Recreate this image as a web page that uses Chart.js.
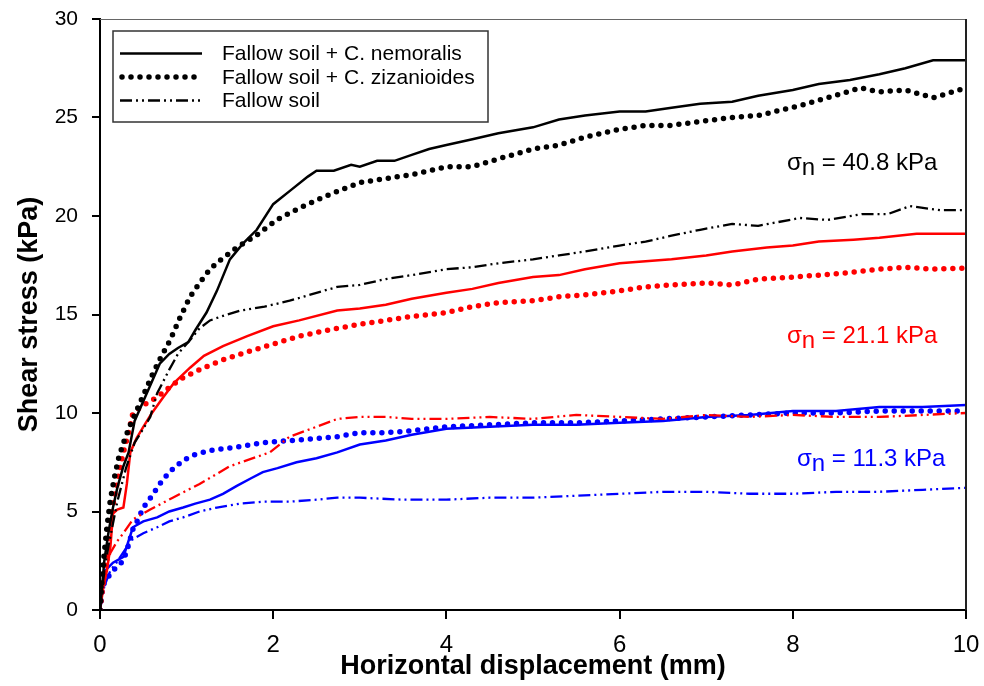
<!DOCTYPE html>
<html>
<head>
<meta charset="utf-8">
<script src="https://cdn.jsdelivr.net/npm/chart.js@4.4.1/dist/chart.umd.min.js"></script>
<style>
  html, body { margin: 0; padding: 0; background: #fff; }
  #wrap { width: 984px; height: 686px; }
</style>
</head>
<body>
<div id="wrap"><canvas id="chart"></canvas></div>
<script>
// series labels
const seriesNames = ['Fallow soil + C. nemoralis', 'Fallow soil + C. zizanioides', 'Fallow soil'];
const xTicks = [0, 2, 4, 6, 8, 10];
const yTicks = [0, 5, 10, 15, 20, 25, 30];

// sigma_n = 40.8 kPa (black)
const blackNemX = [0, 0.05, 0.1, 0.15, 0.2, 0.27, 0.33, 0.4, 0.5, 0.6, 0.69, 0.8, 0.9, 1.02, 1.1, 1.23, 1.35, 1.5, 1.65, 1.81, 2.0, 2.2, 2.4, 2.5, 2.7, 2.9, 3.0, 3.2, 3.4, 3.6, 3.8, 4.0, 4.3, 4.6, 5.0, 5.3, 5.6, 6.0, 6.3, 6.6, 6.93, 7.3, 7.6, 8.0, 8.3, 8.66, 9.0, 9.3, 9.62, 10];
const blackNemY = [0, 2.5, 4.0, 5.2, 6.2, 7.3, 8.0, 9.6, 10.6, 11.6, 12.5, 13.0, 13.3, 13.6, 14.2, 15.1, 16.2, 17.8, 18.6, 19.3, 20.6, 21.3, 22.0, 22.3, 22.3, 22.6, 22.5, 22.8, 22.8, 23.1, 23.4, 23.6, 23.9, 24.2, 24.5, 24.9, 25.1, 25.3, 25.3, 25.5, 25.7, 25.8, 26.1, 26.4, 26.7, 26.9, 27.2, 27.5, 27.9, 27.9];
const blackZizX = [0, 0.04, 0.08, 0.12, 0.17, 0.22, 0.28, 0.34, 0.4, 0.5, 0.6, 0.7, 0.81, 0.92, 1.04, 1.15, 1.27, 1.4, 1.58, 1.8, 2.04, 2.3, 2.6, 3.0, 3.3, 3.6, 4.0, 4.3, 4.6, 5.0, 5.3, 5.6, 6.0, 6.3, 6.6, 6.93, 7.3, 7.6, 8.08, 8.4, 8.78, 9.0, 9.3, 9.62, 10];
const blackZizY = [0, 2.5, 4.2, 5.6, 6.8, 7.8, 8.6, 9.3, 9.9, 10.9, 11.9, 12.8, 13.7, 14.8, 15.9, 16.6, 17.3, 17.8, 18.4, 19.0, 19.8, 20.4, 21.0, 21.7, 21.9, 22.1, 22.5, 22.5, 22.9, 23.4, 23.6, 24.0, 24.4, 24.6, 24.6, 24.8, 25.0, 25.1, 25.6, 26.0, 26.5, 26.3, 26.4, 26.0, 26.5];
const blackFalX = [0, 0.05, 0.1, 0.2, 0.3, 0.4, 0.5, 0.58, 0.66, 0.8, 0.9, 1.04, 1.15, 1.27, 1.4, 1.62, 1.9, 2.19, 2.5, 2.74, 3.0, 3.3, 3.6, 4.0, 4.3, 4.6, 5.0, 5.3, 5.6, 6.0, 6.3, 6.6, 6.93, 7.3, 7.6, 8.08, 8.4, 8.8, 9.1, 9.35, 9.7, 10];
const blackFalY = [0, 2.0, 3.3, 5.5, 7.2, 8.5, 9.2, 9.8, 11.0, 12.2, 13.0, 13.7, 14.3, 14.7, 14.9, 15.2, 15.4, 15.7, 16.1, 16.4, 16.5, 16.8, 17.0, 17.3, 17.4, 17.6, 17.8, 18.0, 18.2, 18.5, 18.7, 19.0, 19.3, 19.6, 19.5, 19.9, 19.8, 20.1, 20.1, 20.5, 20.3, 20.3];

// sigma_n = 21.1 kPa (red)
const redNemX = [0, 0.04, 0.08, 0.12, 0.15, 0.2, 0.27, 0.31, 0.35, 0.42, 0.5, 0.6, 0.73, 0.85, 1.04, 1.2, 1.42, 1.7, 2.0, 2.3, 2.74, 3.0, 3.3, 3.6, 4.0, 4.3, 4.6, 5.0, 5.3, 5.6, 6.0, 6.3, 6.6, 7.0, 7.3, 7.7, 8.0, 8.3, 8.7, 9.0, 9.43, 9.7, 10];
const redNemY = [0, 1.2, 2.0, 3.2, 4.9, 5.1, 5.2, 6.4, 8.0, 8.7, 9.3, 10.0, 10.8, 11.5, 12.3, 12.9, 13.4, 13.9, 14.4, 14.7, 15.2, 15.3, 15.5, 15.8, 16.1, 16.3, 16.6, 16.9, 17.0, 17.3, 17.6, 17.7, 17.8, 18.0, 18.2, 18.4, 18.5, 18.7, 18.8, 18.9, 19.1, 19.1, 19.1];
const redZizX = [0, 0.04, 0.08, 0.12, 0.17, 0.22, 0.27, 0.33, 0.38, 0.5, 0.66, 0.8, 0.96, 1.2, 1.42, 1.7, 2.0, 2.3, 2.74, 3.0, 3.3, 3.6, 4.0, 4.3, 4.6, 5.0, 5.3, 5.6, 6.0, 6.3, 6.6, 7.0, 7.3, 7.6, 8.0, 8.3, 8.6, 9.0, 9.3, 9.6, 10];
const redZizY = [0, 1.5, 3.0, 4.6, 5.8, 7.0, 8.0, 9.0, 10.0, 10.4, 10.8, 11.3, 11.8, 12.3, 12.7, 13.1, 13.5, 13.9, 14.3, 14.5, 14.7, 14.9, 15.1, 15.4, 15.6, 15.7, 15.9, 16.0, 16.2, 16.4, 16.5, 16.6, 16.5, 16.8, 16.9, 17.0, 17.1, 17.3, 17.4, 17.3, 17.35];
const redFalX = [0, 0.05, 0.12, 0.2, 0.27, 0.38, 0.58, 0.84, 1.15, 1.5, 1.96, 2.19, 2.5, 2.74, 3.0, 3.3, 3.6, 4.0, 4.5, 5.0, 5.5, 6.0, 6.5, 7.0, 7.5, 8.0, 8.5, 9.0, 9.5, 10];
const redFalY = [0, 1.8, 2.9, 3.5, 3.9, 4.6, 5.1, 5.7, 6.4, 7.3, 8.0, 8.8, 9.3, 9.7, 9.8, 9.8, 9.7, 9.7, 9.8, 9.7, 9.9, 9.8, 9.7, 9.9, 9.8, 9.9, 9.8, 9.8, 9.9, 10.0];

// sigma_n = 11.3 kPa (blue)
const blueNemX = [0, 0.03, 0.06, 0.15, 0.27, 0.38, 0.5, 0.66, 0.8, 0.96, 1.1, 1.27, 1.42, 1.58, 1.75, 1.88, 2.05, 2.27, 2.5, 2.74, 3.0, 3.3, 3.6, 4.0, 4.5, 5.0, 5.5, 6.0, 6.5, 7.0, 7.5, 8.0, 8.5, 9.0, 9.5, 10];
const blueNemY = [0, 1.2, 2.0, 2.4, 2.7, 4.2, 4.5, 4.7, 5.0, 5.2, 5.4, 5.6, 5.9, 6.3, 6.7, 7.0, 7.2, 7.5, 7.7, 8.0, 8.4, 8.6, 8.9, 9.2, 9.3, 9.4, 9.4, 9.5, 9.6, 9.8, 9.9, 10.1, 10.1, 10.3, 10.3, 10.4];
const blueZizX = [0, 0.03, 0.08, 0.15, 0.2, 0.27, 0.33, 0.38, 0.44, 0.5, 0.6, 0.69, 0.8, 0.96, 1.1, 1.27, 1.45, 1.62, 1.9, 2.19, 2.5, 2.74, 3.0, 3.3, 3.6, 4.0, 4.5, 5.0, 5.5, 6.0, 6.5, 7.0, 7.5, 8.0, 8.5, 9.0, 9.5, 10];
const blueZizY = [0, 1.2, 1.6, 2.0, 2.2, 2.5, 3.3, 4.1, 4.6, 5.2, 5.8, 6.4, 7.0, 7.6, 7.9, 8.1, 8.2, 8.3, 8.5, 8.6, 8.7, 8.8, 9.0, 9.0, 9.1, 9.3, 9.4, 9.5, 9.5, 9.6, 9.7, 9.8, 9.9, 10.0, 10.0, 10.1, 10.1, 10.1];
const blueFalX = [0, 0.05, 0.12, 0.19, 0.28, 0.38, 0.5, 0.66, 0.8, 0.96, 1.15, 1.35, 1.62, 1.9, 2.19, 2.5, 2.74, 3.0, 3.5, 4.0, 4.5, 5.0, 5.5, 6.0, 6.5, 7.0, 7.5, 8.0, 8.5, 9.0, 9.5, 10];
const blueFalY = [0, 1.2, 2.0, 2.4, 3.0, 3.6, 3.9, 4.2, 4.5, 4.7, 5.0, 5.2, 5.4, 5.5, 5.5, 5.6, 5.7, 5.7, 5.6, 5.6, 5.7, 5.7, 5.8, 5.9, 6.0, 6.0, 5.9, 5.9, 6.0, 6.0, 6.1, 6.2];

const notes = [
  { text: '40.8', color: '#000000', x: 787, y: 170 },
  { text: '21.1', color: '#ff0000', x: 787, y: 343 },
  { text: '11.3', color: '#0000ff', x: 797, y: 466 }
];

const pts = (xs, ys) => xs.map((x, i) => ({ x: x, y: ys[i] }));

const styles = [
  { borderWidth: 2.5, borderDash: [], borderCapStyle: 'butt' },
  { borderWidth: 5.5, borderDash: [0, 9], borderCapStyle: 'round' },
  { borderWidth: 2.3, borderDash: [12, 4, 2, 4, 2, 4], borderCapStyle: 'butt' }
];

function ds(name, kind, color, xs, ys) {
  return Object.assign({
    label: name,
    data: pts(xs, ys),
    borderColor: color,
    backgroundColor: color,
    pointRadius: 0,
    tension: 0,
    fill: false
  }, styles[kind]);
}

const datasets = [
  ds(seriesNames[0], 0, '#000000', blackNemX, blackNemY),
  ds(seriesNames[1], 1, '#000000', blackZizX, blackZizY),
  ds(seriesNames[2], 2, '#000000', blackFalX, blackFalY),
  ds(seriesNames[0], 0, '#ff0000', redNemX, redNemY),
  ds(seriesNames[1], 1, '#ff0000', redZizX, redZizY),
  ds(seriesNames[2], 2, '#ff0000', redFalX, redFalY),
  ds(seriesNames[0], 0, '#0000ff', blueNemX, blueNemY),
  ds(seriesNames[1], 1, '#0000ff', blueZizX, blueZizY),
  ds(seriesNames[2], 2, '#0000ff', blueFalX, blueFalY)
];

// frame, legend box and sigma labels
const extras = {
  id: 'extras',
  afterDraw(chart) {
    const ctx = chart.ctx;
    const a = chart.chartArea;
    ctx.save();
    // top and right frame
    ctx.strokeStyle = '#666';
    ctx.lineWidth = 1;
    ctx.beginPath();
    ctx.moveTo(a.left, a.top + 0.5);
    ctx.lineTo(a.right, a.top + 0.5);
    ctx.stroke();
    ctx.strokeStyle = '#222';
    ctx.lineWidth = 2;
    ctx.beginPath();
    ctx.moveTo(a.right, a.top);
    ctx.lineTo(a.right, a.bottom);
    ctx.stroke();

    // legend
    ctx.fillStyle = '#fff';
    ctx.fillRect(113, 31, 375, 91);
    ctx.strokeStyle = '#333';
    ctx.lineWidth = 1.5;
    ctx.strokeRect(113, 31, 375, 91);
    ctx.font = '21px Arial, "Liberation Sans", sans-serif';
    ctx.textBaseline = 'alphabetic';
    for (let i = 0; i < 3; i++) {
      const ly = 53.5 + i * 23.5;
      const st = styles[i];
      ctx.strokeStyle = '#000';
      ctx.lineWidth = st.borderWidth;
      ctx.lineCap = st.borderCapStyle;
      ctx.setLineDash(st.borderDash);
      ctx.beginPath();
      ctx.moveTo(i === 1 ? 122 : 120, ly);
      ctx.lineTo(202, ly);
      ctx.stroke();
      ctx.setLineDash([]);
      ctx.lineCap = 'butt';
      ctx.fillStyle = '#000';
      ctx.fillText(seriesNames[i], 222, ly + 6.5);
    }

    // sigma_n annotations
    notes.forEach(n => {
      ctx.fillStyle = n.color;
      ctx.font = '24px Arial, "Liberation Sans", sans-serif';
      let x = n.x;
      ctx.fillText('\u03c3', x, n.y);
      x += ctx.measureText('\u03c3').width;
      ctx.fillText('n', x, n.y + 5);
      x += ctx.measureText('n').width;
      ctx.fillText(' = ' + n.text + ' kPa', x, n.y);
    });
    ctx.restore();
  }
};

new Chart(document.getElementById('chart'), {
  type: 'line',
  data: { datasets: datasets },
  plugins: [extras],
  options: {
    responsive: true,
    maintainAspectRatio: false,
    animation: false,
    layout: { padding: { top: 19, right: 18, left: 0, bottom: 0 } },
    plugins: {
      legend: { display: false },
      tooltip: { enabled: false }
    },
    scales: {
      x: {
        type: 'linear',
        min: 0,
        max: 10,
        afterFit: s => { s.height = 76; s.paddingLeft = 0; s.paddingRight = 0; },
        afterBuildTicks: s => { s.ticks = xTicks.map(v => ({ value: v })); },
        ticks: {
          color: '#000',
          padding: 12,
          font: { family: 'Arial, "Liberation Sans", sans-serif', size: 24 },
          maxRotation: 0
        },
        grid: { drawOnChartArea: false, drawTicks: true, tickLength: 9, color: '#000', lineWidth: 2 },
        border: { display: true, color: '#000', width: 2 },
        title: {
          display: true,
          text: 'Horizontal displacement (mm)',
          color: '#000',
          font: { family: 'Arial, "Liberation Sans", sans-serif', size: 27, weight: 'bold' },
          padding: { top: 0, bottom: 3 }
        }
      },
      y: {
        type: 'linear',
        min: 0,
        max: 30,
        afterFit: s => { s.width = 100; s.paddingTop = 0; s.paddingBottom = 0; },
        afterBuildTicks: s => { s.ticks = yTicks.map(v => ({ value: v })); },
        ticks: {
          color: '#000',
          padding: 14,
          font: { family: 'Arial, "Liberation Sans", sans-serif', size: 21 }
        },
        grid: { drawOnChartArea: false, drawTicks: true, tickLength: 8, color: '#000', lineWidth: 2 },
        border: { display: true, color: '#000', width: 2 },
        title: {
          display: true,
          text: 'Shear stress (kPa)',
          color: '#000',
          font: { family: 'Arial, "Liberation Sans", sans-serif', size: 27, weight: 'bold' },
          padding: { top: 13, bottom: 0 }
        }
      }
    }
  }
});
</script>
</body>
</html>
